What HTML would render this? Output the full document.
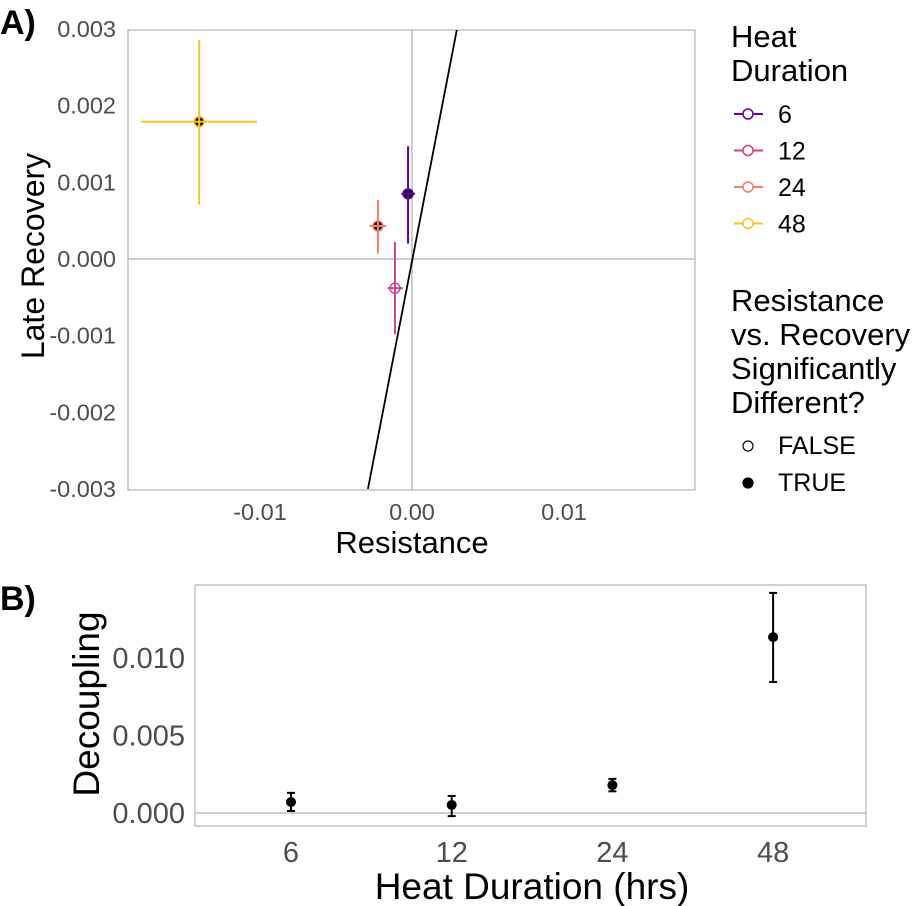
<!DOCTYPE html>
<html><head><meta charset="utf-8"><style>
body{margin:0;background:#fff;}
svg{display:block;font-family:"Liberation Sans",sans-serif;}
</style></head><body>
<svg id="c" width="917" height="906" viewBox="0 0 917 906"></svg>
<script>
const durations=['6','12','24','48'];
const colors=['#6001a6','#c8448e','#f47f66','#f7c41f'];
const resX=[-0.00026,-0.00112,-0.00224,-0.0140];
const resLo=[-0.0007,-0.0016,-0.0028,-0.0178];
const resHi=[0.0002,-0.0006,-0.0017,-0.0102];
const recY=[0.00085,-0.00038,0.00043,0.00179];
const recLo=[0.00020,-0.00098,0.00007,0.00071];
const recHi=[0.00147,0.00022,0.00077,0.00286];
const sig=[true,false,true,true];
const aXTicks=[-0.01,0,0.01];
const aXLabels=['-0.01','0.00','0.01'];
const aYTicks=[0.003,0.002,0.001,0,-0.001,-0.002,-0.003];
const aYLabels=['0.003','0.002','0.001','0.000','-0.001','-0.002','-0.003'];
const decoup=[0.00071,0.00052,0.0018,0.01135];
const decLo=[0.00013,-0.0002,0.0014,0.00845];
const decHi=[0.0013,0.0011,0.0022,0.0142];
const bYTicks=[0,0.005,0.010];
const bYLabels=['0.000','0.005','0.010'];

const svg=document.getElementById('c');
const NS='http://www.w3.org/2000/svg';
function mk(tag,at,parent,txt){const e=document.createElementNS(NS,tag);for(const k in at)e.setAttribute(k,at[k]);if(txt!=null)e.textContent=txt;(parent||svg).appendChild(e);return e;}

// Panel A
const ax=v=>412+v*15200, ay=v=>259-v*76667;
const gA=mk('g',{});


mk('defs',{}).innerHTML='<clipPath id="ca"><rect x="128" y="30" width="567" height="460"/></clipPath>';
let t=mk('text',{x:0,y:34,'font-size':34,'font-weight':'bold'},gA,'A)');

let r=mk('rect',{x:128,y:30,width:567,height:460,fill:'none',stroke:'#b3b3b3','stroke-width':1.2},gA);

let l=mk('line',{x1:ax(0),x2:ax(0),y1:30,y2:490,stroke:'#bebebe','stroke-width':1.5},gA);

l=mk('line',{x1:128,x2:695,y1:ay(0),y2:ay(0),stroke:'#bebebe','stroke-width':1.5},gA);

l=mk('line',{x1:ax(-0.0029),y1:ay(-0.003),x2:ax(0.00296),y2:ay(0.003),stroke:'#000','stroke-width':1.8,'clip-path':'url(#ca)'},gA);

aXTicks.forEach((v,i)=>{const e=mk('text',{x:ax(v),y:520,'font-size':23.5,fill:'#4d4d4d','text-anchor':'middle'},gA,aXLabels[i]);
});
aYTicks.forEach((v,i)=>{const e=mk('text',{x:116,y:ay(v)+8,'font-size':23.5,fill:'#4d4d4d','text-anchor':'end'},gA,aYLabels[i]);
});
t=mk('text',{x:412,y:553,'font-size':31,'text-anchor':'middle'},gA,'Resistance');

t=mk('text',{x:0,y:0,'font-size':32,'text-anchor':'middle',transform:'translate(44,256) rotate(-90)'},gA,'Late Recovery');

durations.forEach((d,i)=>{
  const g=mk('g',{},gA);
  
  mk('circle',{cx:ax(resX[i]),cy:ay(recY[i]),r:5,fill:sig[i]?'#000':'#fff',stroke:colors[i],'stroke-width':1.5},g);
  mk('line',{x1:ax(resLo[i]),x2:ax(resHi[i]),y1:ay(recY[i]),y2:ay(recY[i]),stroke:colors[i],'stroke-width':2},g);
  mk('line',{x1:ax(resX[i]),x2:ax(resX[i]),y1:ay(recLo[i]),y2:ay(recHi[i]),stroke:colors[i],'stroke-width':2},g);
});
// Legend
const gL=mk('g',{});

mk('text',{x:731,y:47,'font-size':31},gL,'Heat');
mk('text',{x:731,y:81,'font-size':31},gL,'Duration');
durations.forEach((d,i)=>{const y=114+i*36.5;const g=mk('g',{},gL);

mk('line',{x1:734,x2:763,y1:y,y2:y,stroke:colors[i],'stroke-width':2},g);
mk('circle',{cx:748,cy:y,r:5,fill:'#fff',stroke:colors[i],'stroke-width':1.5},g);
mk('text',{x:778,y:y+9,'font-size':25},g,d);});
['Resistance','vs. Recovery','Significantly','Different?'].forEach((s,i)=>mk('text',{x:731,y:311+i*34,'font-size':31},gL,s));
[['FALSE',false],['TRUE',true]].forEach((p,i)=>{const y=446+i*37;const g=mk('g',{},gL);

mk('circle',{cx:748,cy:y,r:5,fill:p[1]?'#000':'#fff',stroke:'#000','stroke-width':1.2},g);
mk('text',{x:778,y:y+8,'font-size':25},g,p[0]);});

// Panel B
const bx=i=>291+i*160.7, by=v=>813-v*15500;
const gB=mk('g',{});

t=mk('text',{x:0,y:610,'font-size':34,'font-weight':'bold'},gB,'B)');

r=mk('rect',{x:195,y:585,width:671,height:241,fill:'none',stroke:'#b3b3b3','stroke-width':1.2},gB);

l=mk('line',{x1:195,x2:866,y1:by(0),y2:by(0),stroke:'#bebebe','stroke-width':1.5},gB);

bYTicks.forEach((v,i)=>{const e=mk('text',{x:185,y:by(v)+10,'font-size':29,fill:'#4d4d4d','text-anchor':'end'},gB,bYLabels[i]);
});
durations.forEach((d,i)=>{const e=mk('text',{x:bx(i),y:862,'font-size':29,fill:'#4d4d4d','text-anchor':'middle'},gB,d);

const g=mk('g',{},gB);

const x=bx(i);
mk('line',{x1:x,x2:x,y1:by(decLo[i]),y2:by(decHi[i]),stroke:'#000','stroke-width':2},g);
mk('line',{x1:x-4,x2:x+4,y1:by(decLo[i]),y2:by(decLo[i]),stroke:'#000','stroke-width':2},g);
mk('line',{x1:x-4,x2:x+4,y1:by(decHi[i]),y2:by(decHi[i]),stroke:'#000','stroke-width':2},g);
mk('circle',{cx:x,cy:by(decoup[i]),r:5,fill:'#000'},g);});
t=mk('text',{x:532,y:899,'font-size':37,'text-anchor':'middle'},gB,'Heat Duration (hrs)');

t=mk('text',{x:0,y:0,'font-size':37,'text-anchor':'middle',transform:'translate(99,704) rotate(-90)'},gB,'Decoupling');

</script>
</body></html>
